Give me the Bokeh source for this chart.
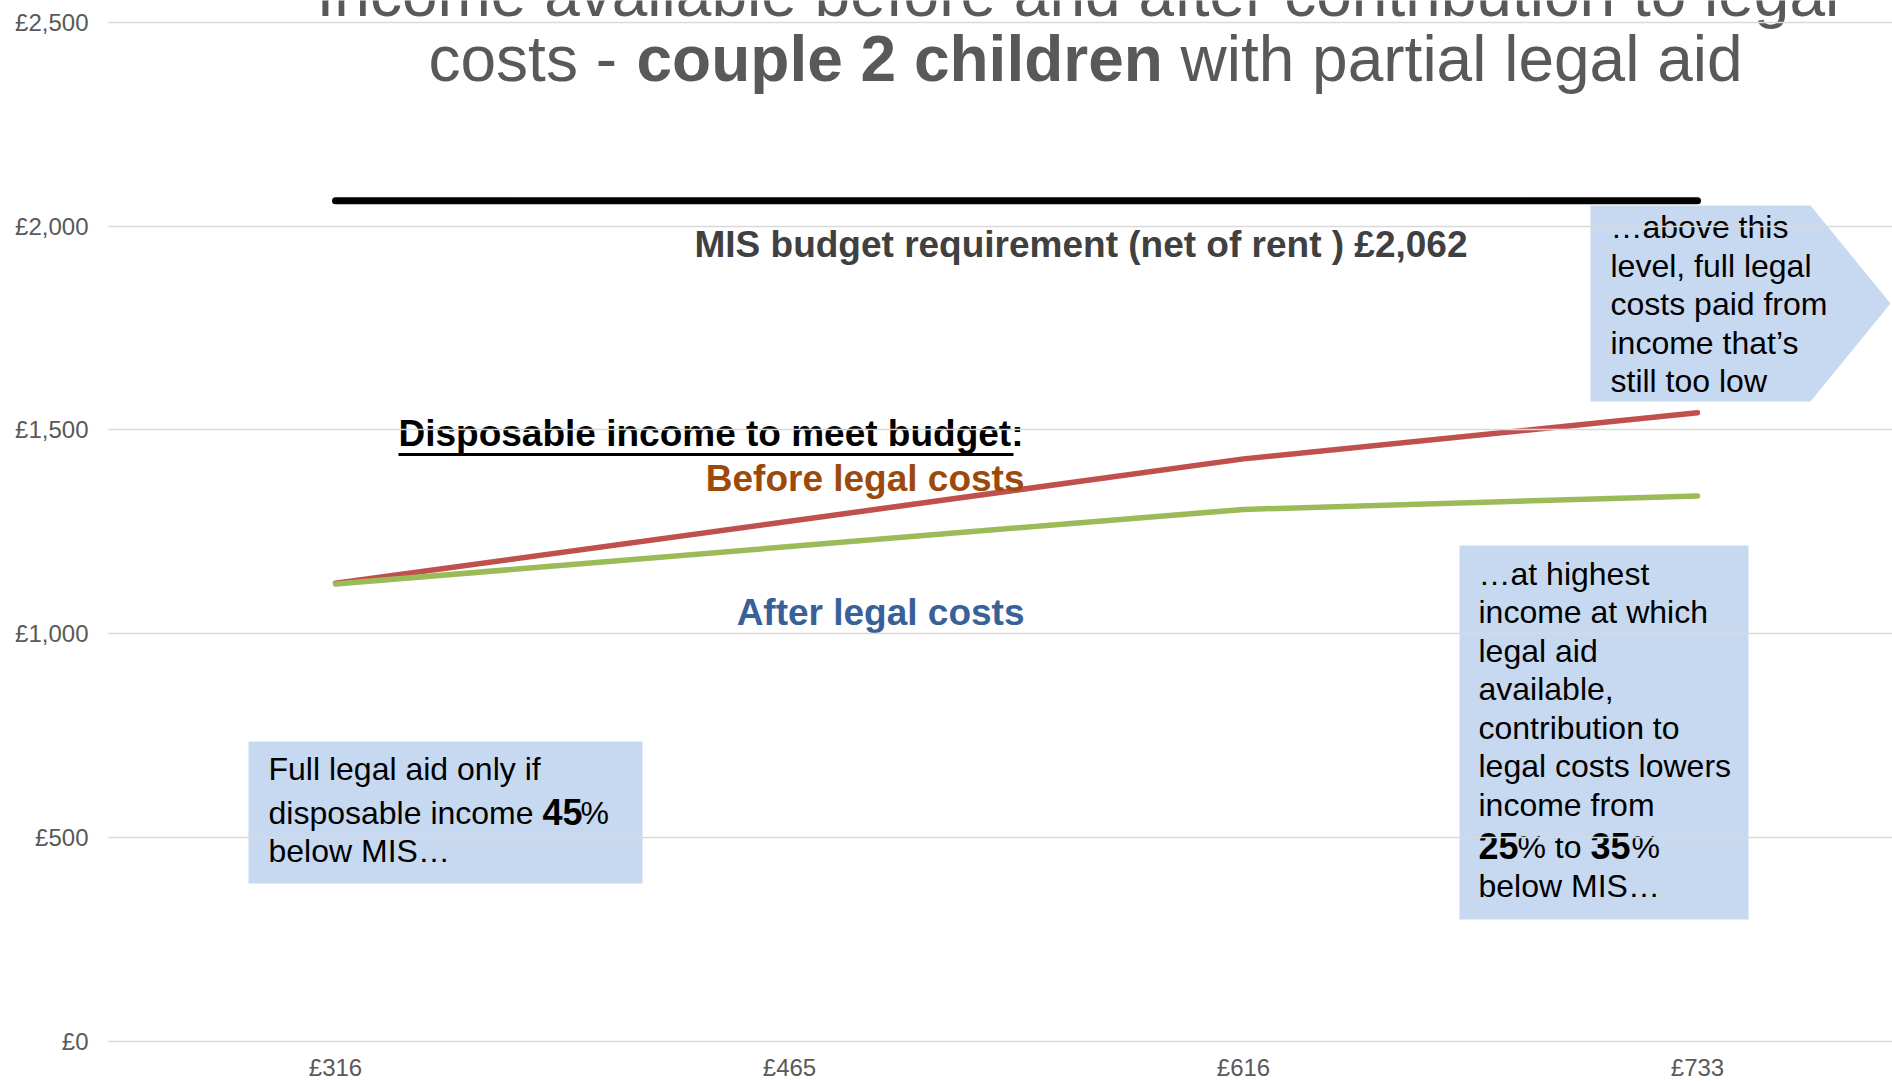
from bokeh.plotting import figure
from bokeh.models import Range1d, FixedTicker
from bokeh.core.properties import value
from bokeh.embed import file_html
from bokeh.resources import INLINE

# ---- data ----
income_labels = ["£316", "£465", "£616", "£733"]
before_legal = [1124, 1276, 1429, 1542]
after_legal = [1122, 1214, 1305, 1338]
mis_budget = 2062
y_ticks = [0, 500, 1000, 1500, 2000, 2500]

FONT = "Liberation Sans"
W, H = 1892, 1081
FRAME_LEFT = 108
ZERO_PX = 1041            # pixel row of the £0 gridline
TOP_PX = 21.7             # pixel row of the £2,500 gridline
CAT0_PX, CAT_STEP = 335, 454
PX_PER_UNIT = (ZERO_PX - TOP_PX) / 2500.0
BASE_FIX = 0.36           # em offset so that text sits on the wanted baseline


def X(px):
    return (px - CAT0_PX) / CAT_STEP


def Y(py):
    return (ZERO_PX - py) / PX_PER_UNIT


xs = list(range(len(income_labels)))

p = figure(width=W, height=H, output_backend="svg", toolbar_location=None,
           x_range=Range1d(X(FRAME_LEFT), X(W)), y_range=Range1d(Y(H), Y(0)),
           min_border_left=FRAME_LEFT, min_border_right=0, min_border_top=0,
           min_border_bottom=0, x_axis_location=None)
p.outline_line_color = None
p.background_fill_color = "white"
p.border_fill_color = "white"

# y axis
p.yaxis.ticker = FixedTicker(ticks=y_ticks)
p.yaxis.major_label_overrides = {v: f"£{v:,}" for v in y_ticks}
ax = p.yaxis[0]
ax.axis_line_color = None
ax.major_tick_line_color = None
ax.minor_tick_line_color = None
ax.major_tick_out = 0
ax.major_tick_in = 0
ax.major_label_text_font = FONT
ax.major_label_text_font_size = "24px"
ax.major_label_text_color = "#595959"
ax.major_label_standoff = 20
p.xgrid.visible = False
p.ygrid.ticker = FixedTicker(ticks=y_ticks)
p.ygrid.grid_line_color = "#D9D9D9"
p.ygrid.grid_line_width = 1.5
p.ygrid.level = "overlay"

BOX = "#C6D9F1"
# annotation boxes
p.quad(left=[X(248)], right=[X(642)], top=[Y(741)], bottom=[Y(883)], fill_color=BOX, line_color=None)
p.quad(left=[X(1459)], right=[X(1748)], top=[Y(545)], bottom=[Y(919)], fill_color=BOX, line_color=None)
p.patch(x=[X(1590), X(1810), X(1890), X(1810), X(1590)],
        y=[Y(205), Y(205), Y(303), Y(401), Y(401)], fill_color=BOX, line_color=None)

# MIS budget line
p.line(x=[xs[0], xs[-1]], y=[mis_budget, mis_budget], line_color="black", line_width=7, line_cap="round")

# series
p.line(x=xs, y=before_legal, line_color="#C0504D", line_width=5.5, line_cap="round", line_join="round")
p.line(x=xs, y=after_legal, line_color="#9BBB59", line_width=5.5, line_cap="round", line_join="round")


def txt(s, px, py, size, color="#000000", style="normal", align="left", xdata=None):
    xx = X(px) if xdata is None else xdata
    p.text(x=[xx], y=[Y(py - BASE_FIX * size)], text=[s], text_font=value(FONT),
           text_font_size=f"{size}px", text_color=color, text_font_style=style,
           text_align=align, text_baseline="alphabetic")


# x tick labels (category axis)
for i, lab in enumerate(income_labels):
    txt(lab, 0, 1076, 24, "#595959", align="center", xdata=xs[i])

# title
TC = "#595959"
txt("Income available before and after   contribution to legal", 316, 17, 64, TC)
txt("costs -", 428, 82, 64, TC)
txt("couple 2 children", 636, 82, 64, TC, "bold")
txt("with partial legal aid", 1180, 82, 64, TC)

# labels
txt("MIS budget requirement (net of rent ) £2,062", 694, 257, 37, "#404040", "bold")
txt("Disposable income to meet budget:", 398, 446, 37, "#000000", "bold")
p.line(x=[X(398), X(1013)], y=[Y(454), Y(454)], line_color="black", line_width=3)
txt("Before legal costs", 1024, 491, 37, "#9C4A0C", "bold", "right")
txt("After legal costs", 1024, 625, 37, "#38619A", "bold", "right")

# left box
txt("Full legal aid only if", 268, 780, 32)
txt("disposable income", 268, 824, 32)
txt("45", 542, 824, 36, style="bold")
txt("%", 580, 824, 32)
txt("below MIS…", 268, 862, 32)

# upper right box
for s, b in zip(["…above this", "level, full legal", "costs paid from", "income that’s", "still too low"],
                [238, 277, 315, 354, 392]):
    txt(s, 1610, b, 32)

# lower right box
lines_r = ["…at highest", "income at which", "legal aid", "available,", "contribution to",
           "legal costs lowers", "income from"]
base_r = [585, 623, 662, 700, 739, 777, 816]
for s, b in zip(lines_r, base_r):
    txt(s, 1478, b, 32)
txt("25", 1478, 858, 36, style="bold")
txt("% to", 1517, 858, 32)
txt("35", 1590, 858, 36, style="bold")
txt("%", 1631, 858, 32)
txt("below MIS…", 1478, 897, 32)

open("out.html", "w").write(file_html(p, INLINE))
